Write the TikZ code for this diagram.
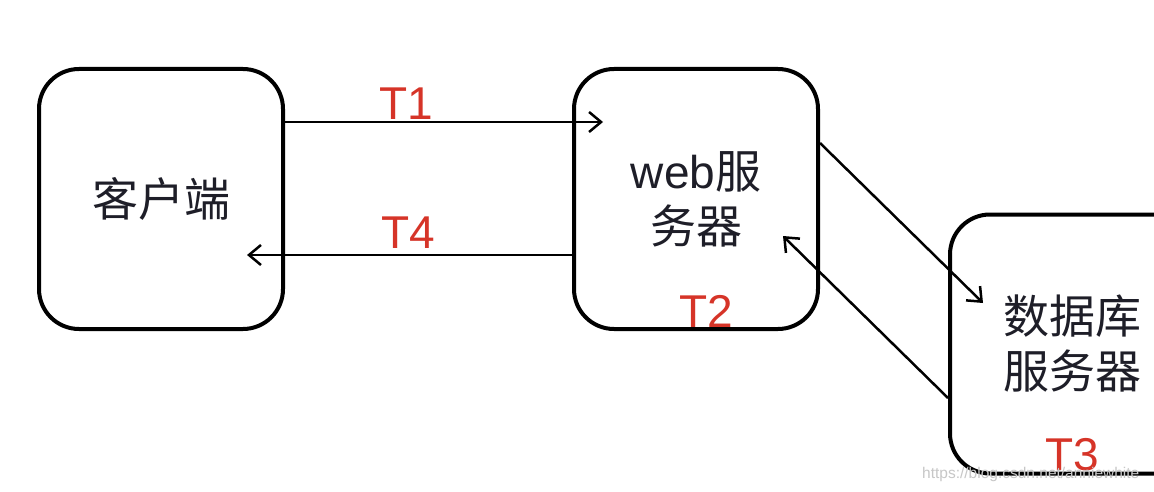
\documentclass[tikz,border=0pt]{standalone}
\usepackage{fontspec}
\setmainfont{Liberation Sans}
\newfontfamily\cjk{Noto Sans CJK SC}
\usetikzlibrary{arrows.meta}
\definecolor{tred}{RGB}{214,52,40}
\definecolor{ink}{RGB}{30,30,40}
\tikzset{
  x=1pt, y=-1pt,
  box/.style={draw=black, line width=4pt, rounded corners=40pt,
    minimum width=244pt, minimum height=260pt, inner sep=0pt,
    align=center, font=\fontsize{46}{55}\selectfont, text=ink},
  arr/.style={draw=black, line width=2.5pt, -{Straight Barb[length=12pt,width=20pt,line width=2.5pt]}},
  tlabel/.style={anchor=base, inner sep=0pt, text=tred, font=\fontsize{46}{46}\selectfont},
}
\begin{document}
\begin{tikzpicture}
\useasboundingbox (0,0) rectangle (1154,492);
\clip (0,0) rectangle (1154,492);
\fill[white] (0,0) rectangle (1154,492);
\node[box] (client) at (161,199) {\cjk 客户端};
\node[box] (web) at (696,199) {web{\cjk 服}\\{\cjk 务器}};
\node[box, minimum height=259pt] (db) at (1072,344) {{\cjk 数据库}\\{\cjk 服务器}};
\coordinate (t1e) at (603,122);
\coordinate (t4e) at (247,255);
\coordinate (t2e) at (983,303);
\coordinate (t3e) at (783,236);
\draw[arr] (client.east |- t1e) -- (t1e);
\draw[arr] (web.west |- t4e) -- (t4e);
\draw[arr] (web.east |- 0,143) -- (t2e);
\draw[arr] (db.west |- 0,398) -- (t3e);
\node[tlabel] (T1) at (406,120) {T1};
\node[tlabel] (T4) at (408,248) {T4};
\node[tlabel] (T2) at (706,327) {T2};
\node[tlabel] (T3) at (1072,470) {T3};
\node[anchor=base west, inner sep=0pt, text=black!22, font=\fontsize{15.5}{15.5}\selectfont] (wm) at (922,478) {https://blog.csdn.net/anniewhite};
\end{tikzpicture}
\end{document}
